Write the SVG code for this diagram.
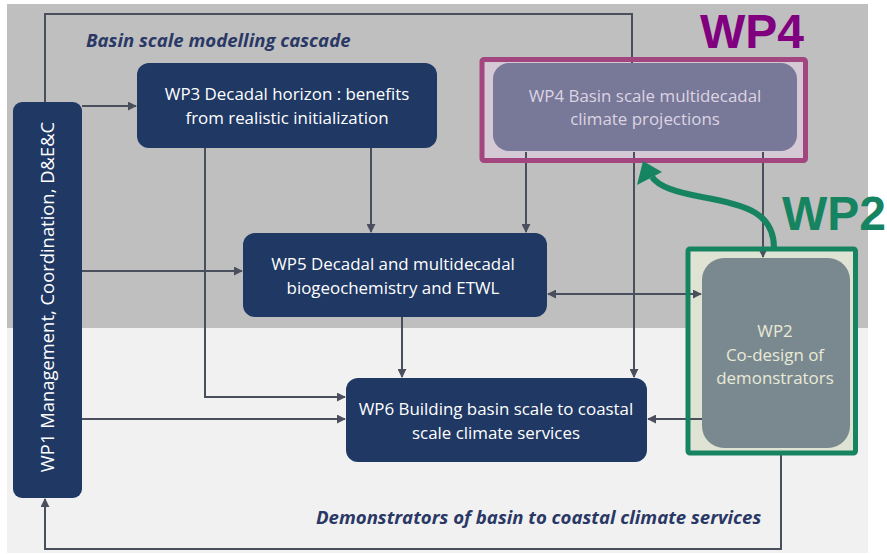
<svg xmlns="http://www.w3.org/2000/svg" width="887" height="554" viewBox="0 0 887 554">
  <defs>
    <marker id="arr" viewBox="0 0 10 10" refX="9" refY="5" markerWidth="4.5" markerHeight="4.5" orient="auto-start-reverse" markerUnits="strokeWidth">
      <path d="M0,0 L10,5 L0,10 z" fill="#4a4f5d"/>
    </marker>
    <style>
      .node { fill: #1f3864; }
      .ntxt { font-family: "Open Sans", "Liberation Sans", sans-serif; font-size: 16.9px; fill: #ffffff; text-anchor: middle; }
      .conn { fill: none; stroke: #4a4f5d; stroke-width: 2; }
      .head { font-family: "Open Sans", "Liberation Sans", sans-serif; font-size: 18.6px; font-weight: bold; font-style: italic; fill: #2a3866; }
      .tag { font-family: "Liberation Sans", Arial, sans-serif; font-size: 48px; font-weight: bold; }
    </style>
  </defs>

  <!-- page background: upper modelling band and lower demonstrator band -->
  <rect x="0" y="0" width="887" height="554" fill="#ffffff"/>
  <rect x="7" y="4" width="861" height="324" fill="#bfbfbf"/>
  <rect x="7" y="328" width="861" height="225" fill="#f1f1f1"/>

  <text class="head" x="86" y="47">Basin scale modelling cascade</text>
  <text class="head" x="316" y="524">Demonstrators of basin to coastal climate services</text>

  <!-- highlight frame fills -->
  <rect x="482" y="59" width="324" height="101" fill="#d6c9d6"/>
  <rect x="688" y="249" width="168" height="204" fill="#dfe3d3"/>

  <!-- connectors -->
  <g id="connectors">
    <path class="conn" d="M45,102 V14 H632 V63"/>
    <path class="conn" d="M82,106 H136" marker-end="url(#arr)"/>
    <path class="conn" d="M82,271 H242" marker-end="url(#arr)"/>
    <path class="conn" d="M82,419 H345" marker-end="url(#arr)"/>
    <path class="conn" d="M205,148 V397 H345" marker-end="url(#arr)"/>
    <path class="conn" d="M371,148 V232" marker-end="url(#arr)"/>
    <path class="conn" d="M526,152 V232" marker-end="url(#arr)"/>
    <path class="conn" d="M634,152 V377" marker-end="url(#arr)"/>
    <path class="conn" d="M763,152 V257" marker-end="url(#arr)"/>
    <path class="conn" d="M402,317 V377" marker-end="url(#arr)"/>
    <path class="conn" d="M548,294 H701" marker-start="url(#arr)" marker-end="url(#arr)"/>
    <path class="conn" d="M702,419 H648" marker-end="url(#arr)"/>
    <path class="conn" d="M781,453 V549 H45 V499" marker-end="url(#arr)"/>
  </g>

  <!-- WP1 -->
  <g id="wp1">
    <rect class="node" x="13" y="102" width="69" height="396" rx="9"/>
    <text class="ntxt" style="font-size:18.4px" transform="translate(54,297) rotate(-90)">WP1 Management, Coordination, D&amp;E&amp;C</text>
  </g>

  <!-- WP3 -->
  <g id="wp3">
    <rect class="node" x="137" y="63" width="300" height="85" rx="12"/>
    <text class="ntxt" x="287" y="100">WP3 Decadal horizon : benefits</text>
    <text class="ntxt" x="287" y="124">from realistic initialization</text>
  </g>

  <!-- WP4 -->
  <g id="wp4">
    <rect x="493" y="63" width="304" height="88" rx="16" fill="#787899"/>
    <text class="ntxt" x="645" y="102" style="fill:#dcd4e2">WP4 Basin scale multidecadal</text>
    <text class="ntxt" x="645" y="125" style="fill:#dcd4e2">climate projections</text>
  </g>

  <!-- WP5 -->
  <g id="wp5">
    <rect class="node" x="243" y="233" width="304" height="84" rx="12"/>
    <text class="ntxt" x="393" y="270">WP5  Decadal and multidecadal</text>
    <text class="ntxt" x="393" y="294">biogeochemistry and ETWL</text>
  </g>

  <!-- WP6 -->
  <g id="wp6">
    <rect class="node" x="346" y="378" width="301" height="84" rx="12"/>
    <text class="ntxt" x="496" y="415">WP6 Building basin scale to coastal</text>
    <text class="ntxt" x="496" y="439">scale climate services</text>
  </g>

  <!-- WP2 -->
  <g id="wp2">
    <rect x="702" y="258" width="148" height="190" rx="22" fill="#7a8990"/>
    <text class="ntxt" x="775" y="337" style="fill:#e9ead6">WP2</text>
    <text class="ntxt" x="775" y="361" style="fill:#e9ead6">Co-design of</text>
    <text class="ntxt" x="775" y="384" style="fill:#e9ead6">demonstrators</text>
  </g>

  <!-- highlight frames and tags -->
  <g id="highlight-wp4">
    <rect x="482" y="59.5" width="323.5" height="101" rx="2" fill="none" stroke="#a3467f" stroke-width="5"/>
    <text class="tag" x="700" y="48" fill="#800080">WP4</text>
  </g>
  <g id="highlight-wp2">
    <rect x="688" y="249" width="167.5" height="204" rx="2" fill="none" stroke="#178461" stroke-width="5"/>
    <text class="tag" x="782" y="230" fill="#178461">WP2</text>
    <path d="M774,248 C774,214 748,205 702,197 C676,192 659,187 652,177" fill="none" stroke="#178461" stroke-width="6"/>
    <polygon points="643,161 637,185 662,172" fill="#178461"/>
  </g>
</svg>
